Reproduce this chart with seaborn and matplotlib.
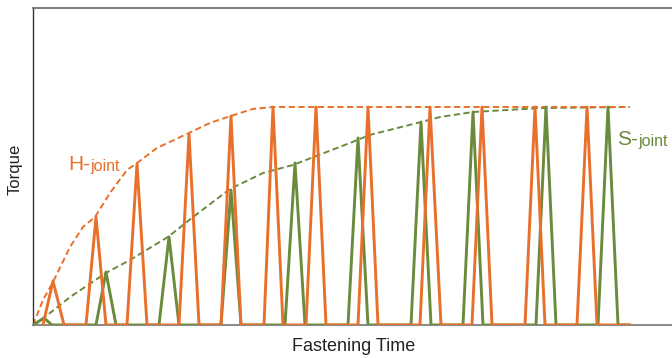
import matplotlib
matplotlib.use("Agg")
import matplotlib.pyplot as plt
import seaborn as sns
import pandas as pd

sns.set_theme(style="white")
plt.rcParams['font.family'] = ['Liberation Sans', 'DejaVu Sans']

ORANGE = '#E8702A'
GREEN = '#6A8A3C'

# H-joint torque pulses (time, torque)
h_time = [1.0, 2.0, 3.1, 5.3, 6.3, 7.3, 9.4, 10.4, 11.4, 14.6, 15.6, 16.6,
          18.8, 19.8, 20.8, 23.1, 24.0, 25.0, 27.3, 28.3, 29.3, 32.5, 33.5, 34.5,
          38.7, 39.7, 40.8, 43.9, 44.9, 45.9, 49.2, 50.2, 51.2, 54.4, 55.4, 56.4, 59.7]
h_torque = [0, 20.2, 0, 0, 49.5, 0, 0, 73.9, 0, 0, 87.6, 0,
            0, 95.9, 0, 0, 100, 0, 0, 100, 0, 0, 100, 0,
            0, 100, 0, 0, 100, 0, 0, 100, 0, 0, 100, 0, 0]

# S-joint torque pulses
s_time = [0.0, 1.1, 1.9, 6.3, 7.3, 8.3, 12.6, 13.6, 14.6, 18.8, 19.8, 20.8,
          25.2, 26.2, 27.2, 31.5, 32.5, 33.5, 37.8, 38.8, 39.8, 43.0, 44.0, 45.0,
          50.3, 51.3, 52.3, 56.5, 57.5, 58.5, 59.7]
s_torque = [0, 3.2, 0, 0, 24.3, 0, 0, 40.4, 0, 0, 61.9, 0,
            0, 74.3, 0, 0, 85.8, 0, 0, 93.1, 0, 0, 97.7, 0,
            0, 100, 0, 0, 100, 0, 0]

# Envelope curves (dashed)
h_env_time = [0, 1.0, 2.0, 3.7, 5.0, 6.2, 7.7, 9.4, 10.4, 12.4, 15.6, 17.7,
              19.8, 22.0, 24.0, 59.7]
h_env_torque = [0, 11.5, 19.7, 35.8, 45.0, 49.5, 60.6, 71.1, 74.3, 81.2, 88.1,
                92.7, 95.9, 99.1, 100, 100]

s_env_time = [0, 1.2, 3.7, 7.3, 9.7, 13.5, 16.0, 19.7, 23.0, 26.0, 31.7, 33.7,
              38.8, 40.7, 44.0, 50.7, 59.7]
s_env_torque = [0, 3.7, 12.8, 23.9, 29.8, 40.4, 49.5, 62.4, 69.7, 73.4, 83.5,
                87.2, 93.1, 95.4, 97.7, 99.5, 100]

fig = plt.figure(figsize=(6.72, 3.58), dpi=100)
ax = fig.add_axes([33 / 672, 33 / 358, 639 / 672, 317 / 358])

def draw(t, v, color, lw, dashes=None, z=2):
    df = pd.DataFrame({'t': t, 'v': v})
    sns.lineplot(data=df, x='t', y='v', sort=False, estimator=None,
                 color=color, lw=lw, ax=ax, zorder=z)
    ln = ax.lines[-1]
    if dashes is not None:
        ln.set_dashes(dashes)
    return ln

draw(s_env_time, s_env_torque, GREEN, 1.4, dashes=(3.2, 1.8), z=2)
draw(h_env_time, h_env_torque, ORANGE, 1.4, dashes=(3.2, 1.8), z=2)
draw(s_time, s_torque, GREEN, 2.1, z=3)
draw(h_time, h_torque, ORANGE, 2.1, z=4)

ax.set_xlim(0, 63.9)
ax.set_ylim(0, 145.4)
ax.set_xticks([])
ax.set_yticks([])

ax.spines['right'].set_visible(False)
ax.spines['left'].set_color('#333333')
ax.spines['left'].set_linewidth(1.0)
ax.spines['top'].set_color('#666666')
ax.spines['top'].set_linewidth(1.2)
ax.spines['bottom'].set_color('#8c8c8c')
ax.spines['bottom'].set_linewidth(1.5)

ax.set_xlabel('Fastening Time', fontsize=13, color='#222222', va='center')
ax.xaxis.set_label_coords(0.502, -0.068)
ax.set_ylabel('Torque', fontsize=12, color='#222222', va='center', ha='center')
ax.yaxis.set_label_coords(-0.028, 0.49)

t1 = ax.text(3.5, 71.1, 'H-', fontsize=15, color=ORANGE, ha='left', va='baseline')
ax.annotate('joint', xy=(1, 0), xycoords=t1, xytext=(0.6, 0), textcoords='offset points',
            fontsize=11.5, color=ORANGE, ha='left', va='bottom')
t2 = ax.text(58.4, 82.6, 'S-', fontsize=15, color=GREEN, ha='left', va='baseline')
ax.annotate('joint', xy=(1, 0), xycoords=t2, xytext=(0.6, 0), textcoords='offset points',
            fontsize=11.5, color=GREEN, ha='left', va='bottom')

fig.savefig('out.png', dpi=100)
